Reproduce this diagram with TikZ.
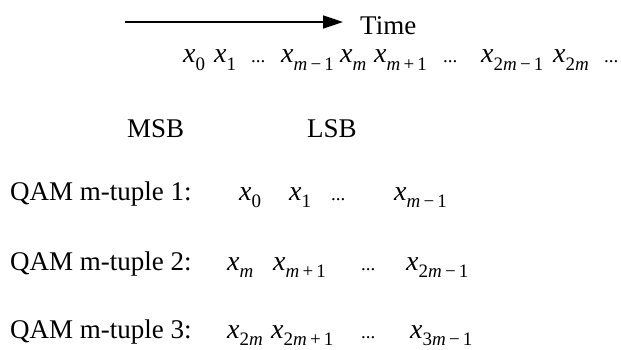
\documentclass[tikz,border=0pt]{standalone}
\usepackage{fontspec}
\setmainfont{Liberation Serif}
\newfontfamily\tnr{Liberation Serif}
\usetikzlibrary{arrows.meta}
\newcommand\xv[1]{{\fontsize{28}{32}\selectfont\itshape x}\raisebox{-0.27em}{\fontsize{19}{22}\selectfont #1}}
\newcommand\mm{\textit{m}}
\begin{document}
\begin{tikzpicture}[x=1pt,y=-1pt,
  lbl/.style={anchor=base west, inner sep=0pt, font=\tnr\fontsize{27}{32}\selectfont},
  dts/.style={anchor=base west, inner sep=0pt, font=\tnr\fontsize{19}{22}\selectfont},
  timearrow/.style={line width=1.6pt, -{Triangle[length=20pt,width=13pt]}}]
\useasboundingbox (0,0) rectangle (621,350);
% time arrow
\coordinate (a0) at (125,22);
\coordinate (a1) at (343,22);
\draw[timearrow] (a0) -- (a1);
\node[lbl] (time) at (360,35) {Time};
% sequence row
\node[lbl] (s0) at (183,63) {\xv{0}};
\node[lbl] (s1) at (214,63) {\xv{1}};
\node[dts] (s2) at (251,63) {...};
\node[lbl] (s3) at (281,63) {\xv{\mm\,−\,1}};
\node[lbl] (s4) at (340,63) {\xv{\mm}};
\node[lbl] (s5) at (374,63) {\xv{\mm\,+\,1}};
\node[dts] (s6) at (443,63) {...};
\node[lbl] (s7) at (481,63) {\xv{2\mm\,−\,1}};
\node[lbl] (s8) at (553,63) {\xv{2\mm}};
\node[dts] (s9) at (604,63) {...};
% MSB / LSB
\node[lbl] (msb) at (127,138) {MSB};
\node[lbl] (lsb) at (307,138) {LSB};
% tuple 1
\node[lbl] (q1) at (10,200) {QAM m-tuple 1:};
\node[lbl] (q1a) at (239,200) {\xv{0}};
\node[lbl] (q1b) at (289,200) {\xv{1}};
\node[dts] (q1c) at (331,200) {...};
\node[lbl] (q1d) at (394,200) {\xv{\mm\,−\,1}};
% tuple 2
\node[lbl] (q2) at (10,270) {QAM m-tuple 2:};
\node[lbl] (q2a) at (227,270) {\xv{\mm}};
\node[lbl] (q2b) at (273,270) {\xv{\mm\,+\,1}};
\node[dts] (q2c) at (361,270) {...};
\node[lbl] (q2d) at (406,270) {\xv{2\mm\,−\,1}};
% tuple 3
\node[lbl] (q3) at (10,338) {QAM m-tuple 3:};
\node[lbl] (q3a) at (227,338) {\xv{2\mm}};
\node[lbl] (q3b) at (271,338) {\xv{2\mm\,+\,1}};
\node[dts] (q3c) at (361,338) {...};
\node[lbl] (q3d) at (410,338) {\xv{3\mm\,−\,1}};
\end{tikzpicture}
\end{document}
